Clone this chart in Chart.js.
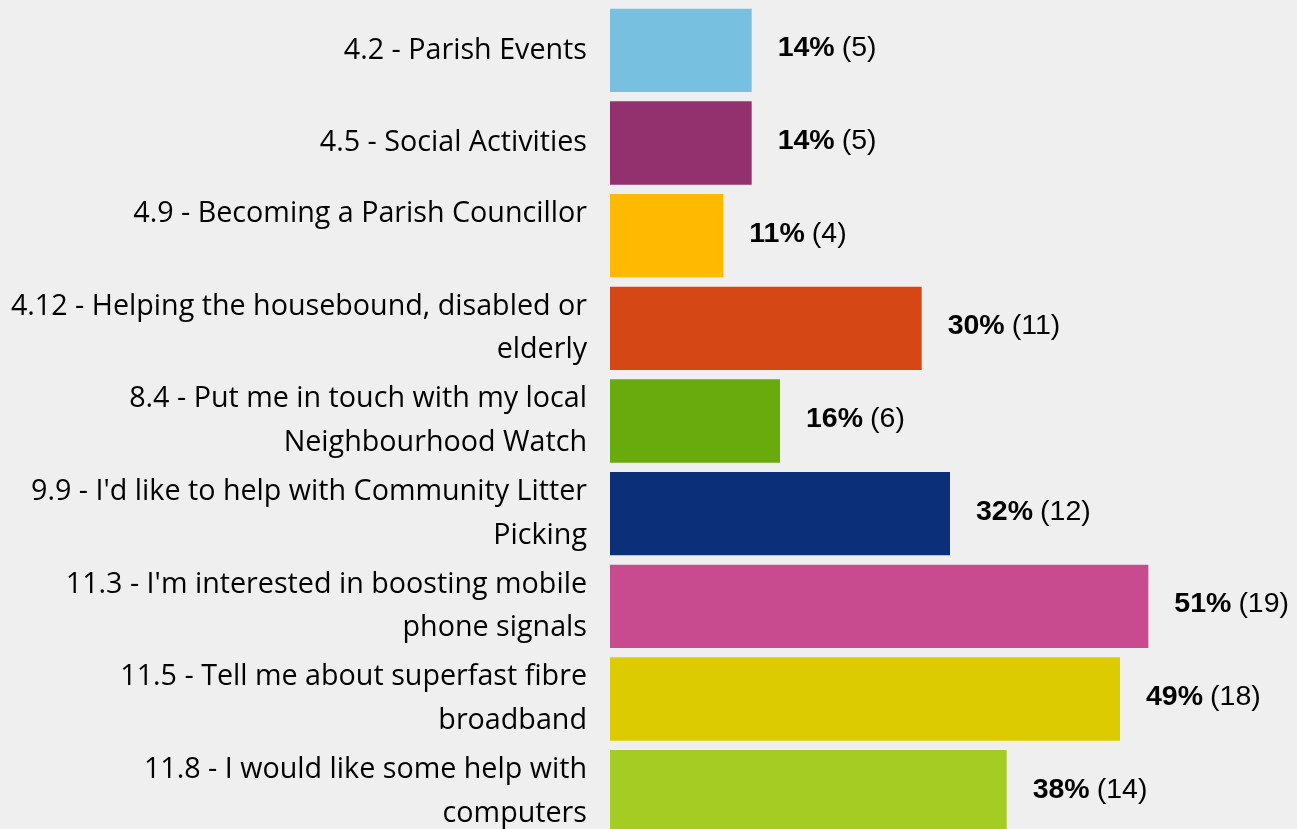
<!DOCTYPE html>
<html>
<head>
<meta charset="utf-8">
<script src="https://cdn.jsdelivr.net/npm/chart.js@4/dist/chart.umd.min.js"></script>
<style>
  html, body { margin: 0; padding: 0; background: #efefef; overflow: hidden; }
  #wrap { width: 1297px; height: 846px; position: relative; }
</style>
</head>
<body>
<div id="wrap"><canvas id="chart"></canvas></div>
<script>
// survey answers (count of respondents) and the percentage shown next to each bar
const categories = [
  '4.2 - Parish Events',
  '4.5 - Social Activities',
  ['4.9 - Becoming a Parish Councillor', ''],
  ['4.12 - Helping the housebound, disabled or', 'elderly'],
  ['8.4 - Put me in touch with my local', 'Neighbourhood Watch'],
  ["9.9 - I'd like to help with Community Litter", 'Picking'],
  ["11.3 - I'm interested in boosting mobile", 'phone signals'],
  ['11.5 - Tell me about superfast fibre', 'broadband'],
  ['11.8 - I would like some help with', 'computers'],
];
const counts = [5, 5, 4, 11, 6, 12, 19, 18, 14];
const percents = ['14%', '14%', '11%', '30%', '16%', '32%', '51%', '49%', '38%'];
const barColors = ['#77c0e0', '#93306e', '#ffb900', '#d54715', '#69aa0d', '#0c2f7a', '#c84b90', '#dccb00', '#a4cc22'];

// draws "NN% (n)" to the right of each bar
const valueLabels = {
  id: 'valueLabels',
  afterDatasetsDraw(chart) {
    const ctx = chart.ctx;
    const meta = chart.getDatasetMeta(0);
    ctx.save();
    ctx.textBaseline = 'middle';
    ctx.fillStyle = '#000';
    meta.data.forEach((bar, i) => {
      let x = bar.x + 26;
      const y = bar.y - 2;
      ctx.font = 'bold 28.5px "Liberation Sans", Arial, sans-serif';
      ctx.fillText(percents[i], x, y);
      x += ctx.measureText(percents[i]).width + 7;
      ctx.font = '28.5px "Liberation Sans", Arial, sans-serif';
      ctx.fillText('(' + counts[i] + ')', x, y);
    });
    ctx.restore();
  }
};

new Chart(document.getElementById('chart'), {
  type: 'bar',
  data: {
    labels: categories,
    datasets: [{
      data: counts,
      backgroundColor: barColors,
      borderWidth: 0,
      barPercentage: 0.9,
      categoryPercentage: 1,
    }],
  },
  options: {
    indexAxis: 'y',
    responsive: true,
    maintainAspectRatio: false,
    animation: false,
    layout: { padding: { top: 4, bottom: 8, right: 7, left: 0 } },
    plugins: { legend: { display: false }, tooltip: { enabled: false } },
    scales: {
      x: { display: false, min: 0, max: 24 },
      y: {
        grid: { display: false, drawTicks: false },
        border: { display: false },
        afterFit(scale) {
          scale.width = 610;
          scale.paddingTop = 0;
          scale.paddingBottom = 0;
        },
        ticks: {
          padding: 23,
          color: '#000',
          font: { family: '"Open Sans", sans-serif', size: 28.7, lineHeight: 1.53 },
        },
      },
    },
  },
  plugins: [valueLabels],
});
</script>
</body>
</html>
